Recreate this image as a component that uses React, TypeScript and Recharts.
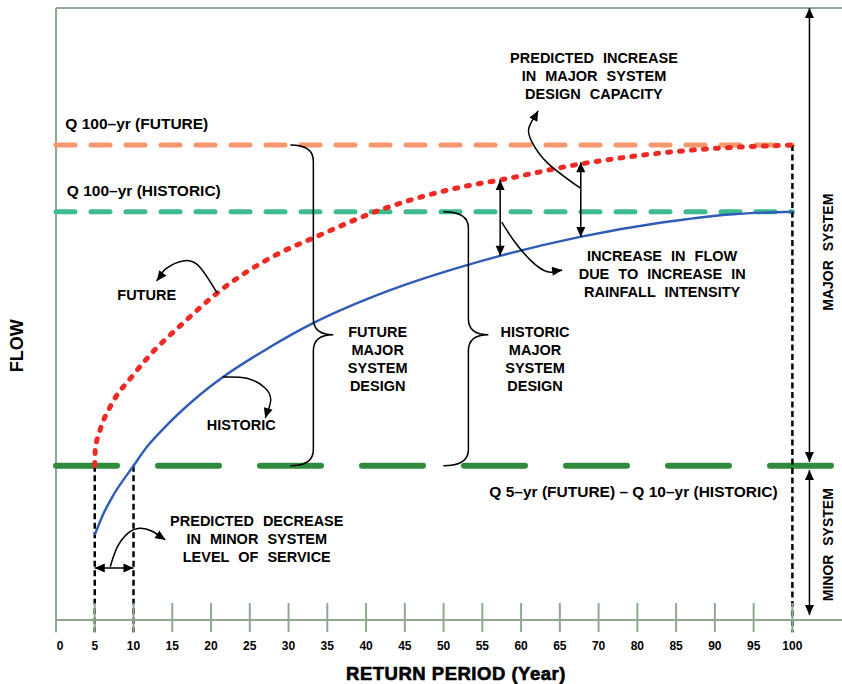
import React from "react";
import { ComposedChart, Line, XAxis, YAxis, ReferenceLine, ReferenceDot } from "recharts";

// Conceptual IDF-shift sketch: flow vs return period, historic vs future rainfall.
// x is the position on the return-period axis (one slot per 5 units; the printed
// axis has no 75, so the "100" tick sits at slot 95).

const FRAME = "#8fa98f";
const FONT = "'Liberation Sans', Arial, Helvetica, sans-serif";

const TICK_POS = [0, 5, 10, 15, 20, 25, 30, 35, 40, 45, 50, 55, 60, 65, 70, 75, 80, 85, 90, 95];
const TICK_LABELS = ["0", "5", "10", "15", "20", "25", "30", "35", "40", "45", "50", "55", "60", "65", "70", "80", "85", "90", "95", "100"];

const Q100_FUTURE = 77.6;
const Q100_HISTORIC = 66.7;
const Q_MINOR = 25.2; // Q 5-yr (future) = Q 10-yr (historic)
const RP_5 = 5;
const RP_10 = 10;
const RP_100 = 95;

const FUTURE_RP = [5, 5.07, 5.68, 6.97, 9.94, 12.13, 16.39, 20.77, 28.9, 33.16, 41.81, 52.52, 57.29, 67.61, 82.19, 95];
const FUTURE_FLOW = [25.2, 27.8, 31.0, 34.8, 40.0, 43.3, 48.5, 53.4, 60.0, 62.4, 67.0, 70.8, 71.9, 74.5, 76.8, 77.6];

const HISTORIC_RP = [5, 6.06, 7.35, 10, 11.74, 13.81, 18.19, 21.55, 27.35, 33.16, 43.1, 53.03, 57.29, 67.61, 77.94, 87.35, 95];
const HISTORIC_FLOW = [13.9, 17.2, 20.3, 25.2, 28.3, 31.2, 36.4, 39.7, 44.4, 48.5, 53.9, 58.0, 59.5, 62.6, 64.9, 66.3, 66.7];

// curved call-out arrows, [rp, flow] from tail to tip
const FUTURE_CALLOUT = [[20.8, 53.4], [18.6, 57.6], [16.6, 58.7], [14.2, 57.4], [13.0, 55.4]];
const HISTORIC_CALLOUT = [[21.5, 39.7], [24.6, 39.5], [26.9, 38.0], [27.7, 35.9], [27.0, 33.0]];
const CAPACITY_CALLOUT = [[67.6, 70.6], [63.4, 74.7], [61.4, 78.1], [61.0, 80.4], [62.2, 83.2]];
const INTENSITY_CALLOUT = [[57.5, 65.0], [59.0, 62.1], [61.2, 58.8], [63.4, 56.9], [65.3, 57.2]];
const SERVICE_CALLOUT = [[7.0, 8.7], [7.9, 11.9], [9.3, 14.2], [10.8, 15.0], [12.4, 14.5], [14.1, 13.1]];

// double arrows
const GAP_ARROWS = [
  { rp: 57.3, from: 71.9, to: 59.5 },
  { rp: 67.7, from: 74.8, to: 62.6 },
];
const SYSTEM_ARROWS = [
  { rp: 97.2, from: 100, to: 25.8 },
  { rp: 97.2, from: 24.5, to: 0.8 },
];
const SERVICE_ARROW = { flow: 8.5, from: RP_5, to: RP_10 };

const BRACES = [
  { rp: 33.2, top: Q100_FUTURE, bottom: Q_MINOR, tip: 46.6, curl: 23 },
  { rp: 53.2, top: Q100_HISTORIC, bottom: Q_MINOR, tip: 46.6, curl: 25 },
];

const NOTES = [
  { rp: 69.4, flow: 88.9, lines: ["PREDICTED INCREASE", "IN MAJOR SYSTEM", "DESIGN CAPACITY"] },
  { rp: 78.2, flow: 56.5, lines: ["INCREASE IN FLOW", "DUE TO INCREASE IN", "RAINFALL INTENSITY"] },
  { rp: 11.7, flow: 53.1, lines: ["FUTURE"] },
  { rp: 23.9, flow: 31.9, lines: ["HISTORIC"] },
  { rp: 41.5, flow: 42.6, lines: ["FUTURE", "MAJOR", "SYSTEM", "DESIGN"] },
  { rp: 61.8, flow: 42.6, lines: ["HISTORIC", "MAJOR", "SYSTEM", "DESIGN"] },
  { rp: 25.9, flow: 13.2, lines: ["PREDICTED DECREASE", "IN MINOR SYSTEM", "LEVEL OF SERVICE"] },
];

const LEVEL_LABELS = [
  { rp: 1.2, flow: 81.0, text: "Q 100–yr (FUTURE)", anchor: "start" },
  { rp: 1.4, flow: 70.1, text: "Q 100–yr (HISTORIC)", anchor: "start" },
  { rp: 74.5, flow: 20.9, text: "Q 5–yr (FUTURE) – Q 10–yr (HISTORIC)", anchor: "middle" },
];

const SIDE_LABELS = [
  { rp: 99.6, flow: 60.1, text: "MAJOR SYSTEM", size: 14 },
  { rp: 99.6, flow: 12.3, text: "MINOR SYSTEM", size: 14 },
  { rp: -5.0, flow: 44.8, text: "FLOW", size: 18 },
];

const zip = (xs: number[], ys: number[]) => xs.map((rp, i) => ({ rp, flow: ys[i] }));
const pts = (arr: number[][]) => arr.map(([rp, flow]) => ({ rp, flow }));

function headPoints(x1: number, y1: number, x2: number, y2: number, len = 10, w = 4.5) {
  const a = Math.atan2(y2 - y1, x2 - x1);
  const bx = x2 - len * Math.cos(a);
  const by = y2 - len * Math.sin(a);
  const px = -Math.sin(a) * w;
  const py = Math.cos(a) * w;
  return `${x2},${y2} ${bx + px},${by + py} ${bx - px},${by - py}`;
}

const ArrowHead = (p: any) => <polygon points={headPoints(p.x1, p.y1, p.x2, p.y2)} fill="#000" />;

const DoubleArrow = (p: any) => (
  <g>
    <line x1={p.x1} y1={p.y1} x2={p.x2} y2={p.y2} stroke="#000" strokeWidth={1.5} />
    <polygon points={headPoints(p.x1, p.y1, p.x2, p.y2)} fill="#000" />
    <polygon points={headPoints(p.x2, p.y2, p.x1, p.y1)} fill="#000" />
  </g>
);

const braceShape = (frac: number, curl: number) => (p: any) => {
  const { x1, y1, y2 } = p;
  const ym = y1 + (y2 - y1) * frac;
  const r = 16;
  const d =
    `M${x1 - curl},${y1} Q${x1},${y1} ${x1},${y1 + r} L${x1},${ym - r} ` +
    `Q${x1},${ym} ${x1 + 20},${ym} Q${x1},${ym} ${x1},${ym + r} ` +
    `L${x1},${y2 - r} Q${x1},${y2} ${x1 - curl},${y2}`;
  return <path d={d} fill="none" stroke="#000" strokeWidth={1.5} />;
};

const noteShape = (lines: string[]) => (p: any) => {
  const lh = 18;
  const y0 = p.cy - ((lines.length - 1) * lh) / 2 + 5;
  return (
    <text x={p.cx} y={y0} textAnchor="middle" fontSize={14.5} fontWeight="bold" fill="#000" wordSpacing={5} fontFamily={FONT}>
      {lines.map((l, i) => (
        <tspan key={i} x={p.cx} dy={i === 0 ? 0 : lh}>{l}</tspan>
      ))}
    </text>
  );
};

const levelShape = (text: string, anchor: string) => (p: any) => (
  <text x={p.cx} y={p.cy + 5} textAnchor={anchor as any} fontSize={15.5} fontWeight="bold" fill="#000" fontFamily={FONT}>
    {text}
  </text>
);

const sideShape = (text: string, size: number) => (p: any) => (
  <text x={p.cx} y={p.cy} transform={`rotate(-90, ${p.cx}, ${p.cy})`} textAnchor="middle" dominantBaseline="central"
    fontSize={size} fontWeight="bold" fill="#000" wordSpacing={5} fontFamily={FONT}>
    {text}
  </text>
);

const xAxisTitle = (p: any) => (
  <text x={p.cx} y={p.cy + 5} textAnchor="middle" fontSize={18.5} fontWeight="bold" fill="#000" stroke="#000"
    strokeWidth={0.6} letterSpacing={0.5} fontFamily={FONT}>
    RETURN PERIOD (Year)
  </text>
);

function AxisTick(props: any) {
  const { x, y, payload } = props;
  const i = TICK_POS.indexOf(payload.value);
  return (
    <g>
      <line x1={x} x2={x} y1={y - 17} y2={y + 12} stroke={FRAME} strokeWidth={2} />
      <text x={x + (i === 0 ? 4 : 0)} y={y + 30} textAnchor="middle" fontSize={12} fontWeight="bold" fill="#000" fontFamily={FONT}>
        {TICK_LABELS[i]}
      </text>
    </g>
  );
}

export default function App() {
  const callouts = [FUTURE_CALLOUT, HISTORIC_CALLOUT, CAPACITY_CALLOUT, INTENSITY_CALLOUT, SERVICE_CALLOUT];
  return (
    <div style={{ position: "absolute", left: 0, top: 0, width: 842, height: 684, background: "#fff", fontFamily: FONT }}>
      <ComposedChart width={842} height={684} margin={{ top: 8, right: 0, bottom: 0, left: 56 }}>
        <XAxis type="number" dataKey="rp" domain={[0, 101.4]} ticks={TICK_POS} interval={0} height={64}
          tickSize={0} tickMargin={0} tickLine={false} axisLine={{ stroke: FRAME, strokeWidth: 2 }} tick={<AxisTick />} />
        <YAxis type="number" dataKey="flow" domain={[0, 100]} hide />

        {/* frame */}
        <ReferenceLine y={100} stroke={FRAME} strokeWidth={2} ifOverflow="visible" />
        <ReferenceLine segment={[{ x: 0, y: -2 }, { x: 0, y: 100 }]} stroke={FRAME} strokeWidth={2} ifOverflow="visible" />

        {/* design levels */}
        <ReferenceLine segment={[{ x: 0, y: Q100_FUTURE }, { x: RP_100, y: Q100_FUTURE }]} stroke="#f7976e" strokeWidth={5}
          strokeDasharray="19 16" strokeLinecap="round" ifOverflow="visible" />
        <ReferenceLine segment={[{ x: 0, y: Q100_HISTORIC }, { x: RP_100, y: Q100_HISTORIC }]} stroke="#3dbb8e" strokeWidth={5}
          strokeDasharray="19 16" strokeLinecap="round" ifOverflow="visible" />
        <ReferenceLine segment={[{ x: 0, y: Q_MINOR }, { x: 101.4, y: Q_MINOR }]} stroke="#2f8a3c" strokeWidth={6}
          strokeDasharray="61 41" strokeLinecap="round" ifOverflow="visible" />

        {/* drop lines */}
        {[RP_5, RP_10].map((rp) => (
          <ReferenceLine key={rp} segment={[{ x: rp, y: Q_MINOR }, { x: rp, y: -2 }]} stroke="#000" strokeWidth={2.5}
            strokeDasharray="6 3.5" ifOverflow="visible" />
        ))}
        <ReferenceLine segment={[{ x: RP_100, y: Q100_FUTURE }, { x: RP_100, y: -2 }]} stroke="#000" strokeWidth={2.5}
          strokeDasharray="6 3.5" ifOverflow="visible" />

        {/* curves */}
        <Line data={zip(HISTORIC_RP, HISTORIC_FLOW)} dataKey="flow" type="monotone" stroke="#2f5cb6" strokeWidth={2.4}
          dot={false} isAnimationActive={false} />
        <Line data={zip(FUTURE_RP, FUTURE_FLOW)} dataKey="flow" type="monotone" stroke="#ee2a24" strokeWidth={5}
          strokeDasharray="3 9" strokeLinecap="round" dot={false} isAnimationActive={false} />

        {/* call-outs */}
        {callouts.map((c, i) => (
          <Line key={`c${i}`} data={pts(c)} dataKey="flow" type="natural" stroke="#000" strokeWidth={1.5}
            dot={false} isAnimationActive={false} />
        ))}
        {callouts.map((c, i) => {
          const a = c[c.length - 2];
          const b = c[c.length - 1];
          return (
            <ReferenceLine key={`h${i}`} segment={[{ x: a[0], y: a[1] }, { x: b[0], y: b[1] }]} shape={ArrowHead} ifOverflow="visible" />
          );
        })}

        {[...GAP_ARROWS, ...SYSTEM_ARROWS].map((a, i) => (
          <ReferenceLine key={`d${i}`} segment={[{ x: a.rp, y: a.from }, { x: a.rp, y: a.to }]} shape={DoubleArrow} ifOverflow="visible" />
        ))}
        <ReferenceLine segment={[{ x: SERVICE_ARROW.from, y: SERVICE_ARROW.flow }, { x: SERVICE_ARROW.to, y: SERVICE_ARROW.flow }]}
          shape={DoubleArrow} ifOverflow="visible" />

        {BRACES.map((b, i) => (
          <ReferenceLine key={`b${i}`} segment={[{ x: b.rp, y: b.top }, { x: b.rp, y: b.bottom }]}
            shape={braceShape((b.top - b.tip) / (b.top - b.bottom), b.curl)} ifOverflow="visible" />
        ))}

        {/* text */}
        {NOTES.map((n, i) => (
          <ReferenceDot key={`n${i}`} x={n.rp} y={n.flow} shape={noteShape(n.lines)} ifOverflow="visible" />
        ))}
        {LEVEL_LABELS.map((n, i) => (
          <ReferenceDot key={`l${i}`} x={n.rp} y={n.flow} shape={levelShape(n.text, n.anchor)} ifOverflow="visible" />
        ))}
        {SIDE_LABELS.map((n, i) => (
          <ReferenceDot key={`s${i}`} x={n.rp} y={n.flow} shape={sideShape(n.text, n.size)} ifOverflow="visible" />
        ))}
        <ReferenceDot x={51.6} y={-9} shape={xAxisTitle} ifOverflow="visible" />
      </ComposedChart>
    </div>
  );
}
